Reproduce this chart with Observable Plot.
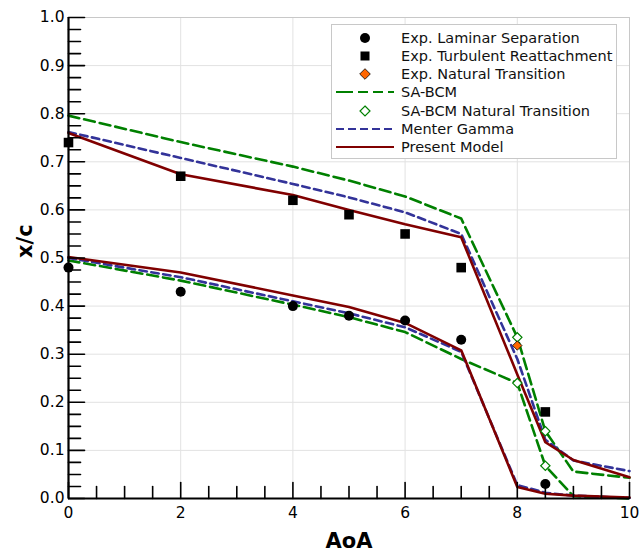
<!DOCTYPE html>
<html>
<head>
<meta charset="utf-8">
<script src="https://cdn.jsdelivr.net/npm/d3@7"></script>
<script src="https://cdn.jsdelivr.net/npm/@observablehq/plot@0.6"></script>
<style>
  html, body { margin: 0; padding: 0; background: white; }
  #wrap { position: relative; width: 640px; height: 554px; font-family: "DejaVu Sans", sans-serif; }
  #legend { position: absolute; left: 331px; top: 24px; width: 286px; height: 135px; background: white;
            border: 1px solid #c8c8c8; box-sizing: border-box; }
  #legend .row { position: absolute; left: 0; height: 18px; width: 100%; }
  #legend svg { position: absolute; left: 2px; top: 0; }
  #legend span { position: absolute; left: 69px; top: 0; font-size: 14.5px; line-height: 18px; color: #111; white-space: nowrap; }
</style>
</head>
<body>
<div id="wrap"></div>
<script>
// ---- data ----
const xTicks = [0, 2, 4, 6, 8, 10];
const yTicks = [0, 0.1, 0.2, 0.3, 0.4, 0.5, 0.6, 0.7, 0.8, 0.9, 1.0];
const xMinor = [0,0.5,1,1.5,2,2.5,3,3.5,4,4.5,5,5.5,6,6.5,7,7.5,8,8.5,9,9.5,10];
const yMinor = d3.range(0, 41).map(i => i / 40);

const expAoA = [0, 2, 4, 5, 6, 7, 8.5];
const lamSep = [0.48, 0.43, 0.40, 0.38, 0.37, 0.33, 0.03];
const turbReat = [0.74, 0.67, 0.62, 0.59, 0.55, 0.48, 0.18];
const natTransAoA = [8];
const natTrans = [0.318];

const modelAoA = [0, 2, 4, 5, 6, 7, 8, 8.5, 9, 10];
const saUpper = [0.796, 0.741, 0.690, 0.661, 0.628, 0.582, 0.335, 0.140, 0.056, 0.043];
const saLower = [0.495, 0.453, 0.403, 0.377, 0.346, 0.290, 0.240, 0.068, 0.005, 0.0];
const saNTAoA = [8, 8.5, 8, 8.5];
const saNT = [0.335, 0.140, 0.240, 0.068];
const menterUpper = [0.762, 0.708, 0.654, 0.626, 0.595, 0.550, 0.290, 0.122, 0.079, 0.057];
const menterLower = [0.500, 0.460, 0.410, 0.385, 0.356, 0.305, 0.028, 0.012, 0.006, 0.001];
const presentUpper = [0.760, 0.674, 0.631, 0.600, 0.570, 0.543, 0.258, 0.117, 0.080, 0.044];
const presentLower = [0.502, 0.470, 0.422, 0.398, 0.365, 0.308, 0.024, 0.010, 0.006, 0.002];

const GREEN = "#008000", BLUE = "#333399", RED = "#800000", ORANGE = "#ff6600";

const pts = (xs, ys) => xs.map((x, i) => ({x, y: ys[i]}));

const lineOpts = {x: "x", y: "y", strokeWidth: 2.6, strokeLinejoin: "round"};
const tickShape = {draw(context, l) { context.moveTo(0, 0); context.lineTo(0, -l); }};

const chart = Plot.plot({
  width: 640,
  height: 554,
  marginLeft: 68,
  marginRight: 11,
  marginTop: 17,
  marginBottom: 56,
  style: {fontFamily: "DejaVu Sans", fontSize: "15px", color: "black", background: "white"},
  x: {domain: [0, 10], label: null},
  y: {domain: [0, 1], label: null},
  marks: [
    Plot.gridX(xTicks.filter(d => d > 0 && d < 10), {stroke: "#e2e2e2", strokeOpacity: 1}),
    Plot.gridY(yTicks.filter(d => d > 0 && d < 1), {stroke: "#e2e2e2", strokeOpacity: 1}),
    Plot.ruleY([1], {stroke: "#c8c8c8"}),
    Plot.ruleX([10], {stroke: "#c8c8c8"}),
    // model lines
    Plot.line(pts(modelAoA, saUpper), {...lineOpts, stroke: GREEN, strokeDasharray: "11,5"}),
    Plot.line(pts(modelAoA, saLower), {...lineOpts, stroke: GREEN, strokeDasharray: "11,5"}),
    Plot.line(pts(modelAoA, menterUpper), {...lineOpts, stroke: BLUE, strokeDasharray: "7.5,4.5"}),
    Plot.line(pts(modelAoA, menterLower), {...lineOpts, stroke: BLUE, strokeDasharray: "7.5,4.5"}),
    Plot.line(pts(modelAoA, presentUpper), {...lineOpts, stroke: RED}),
    Plot.line(pts(modelAoA, presentLower), {...lineOpts, stroke: RED}),
    // markers
    Plot.dot(pts(saNTAoA, saNT), {x: "x", y: "y", symbol: "diamond2", r: 4.2, fill: "white", stroke: GREEN, strokeWidth: 1.2}),
    Plot.dot(pts(expAoA, lamSep), {x: "x", y: "y", symbol: "circle", r: 5, fill: "black"}),
    Plot.dot(pts(expAoA, turbReat), {x: "x", y: "y", symbol: "square", r: 5.4, fill: "black"}),
    Plot.dot(pts(natTransAoA, natTrans), {x: "x", y: "y", symbol: "diamond2", r: 4.2, fill: ORANGE, stroke: "black", strokeWidth: 0.8}),
    // axes
    Plot.axisX(xTicks, {tickSize: 0, tickPadding: 8, fontSize: 15.5, label: null, tickFormat: d => String(d)}),
    Plot.axisY(yTicks, {tickSize: 0, tickPadding: 4, fontSize: 15.5, label: null, tickFormat: d3.format(".1f")}),
    // inward minor/major ticks
    Plot.vector(xMinor, {x: d => d, y: () => 0, length: d => (d % 2 === 0 ? 6 : 4.5), rotate: 0, anchor: "start", shape: tickShape, stroke: "black", strokeWidth: 1.6}),
    Plot.vector(yMinor, {x: () => 0, y: d => d, length: (d, i) => (i % 4 === 0 ? 6 : 4.5), rotate: 90, anchor: "start", shape: tickShape, stroke: "black", strokeWidth: 1.6}),
    Plot.ruleY([0], {stroke: "black", strokeWidth: 2.2}),
    Plot.ruleX([0], {stroke: "black", strokeWidth: 2.2}),
    Plot.text(["AoA"], {frameAnchor: "bottom", dy: 43, fontSize: 21, fontWeight: "bold", lineAnchor: "middle"}),
    Plot.text(["x/c"], {frameAnchor: "left", dx: -43, rotate: -90, fontSize: 21, fontWeight: "bold", lineAnchor: "middle"})
  ]
});

const wrap = document.getElementById("wrap");
wrap.appendChild(chart);

// ---- legend ----
const legendItems = [
  {label: "Exp. Laminar Separation", kind: "circle"},
  {label: "Exp. Turbulent Reattachment", kind: "square"},
  {label: "Exp. Natural Transition", kind: "orangeDiamond"},
  {label: "SA-BCM", kind: "greenLine"},
  {label: "SA-BCM Natural Transition", kind: "openDiamond"},
  {label: "Menter Gamma", kind: "blueLine"},
  {label: "Present Model", kind: "redLine"}
];
const legend = document.createElement("div");
legend.id = "legend";
const rowTops = [4, 22, 40, 58, 76.5, 95, 113];
legendItems.forEach((item, i) => {
  const row = document.createElement("div");
  row.className = "row";
  row.style.top = rowTops[i] + "px";
  let g = "";
  const cx = 31, cy = 9;
  if (item.kind === "circle") g = `<circle cx="${cx}" cy="${cy}" r="5" fill="black"/>`;
  if (item.kind === "square") g = `<rect x="${cx-4.5}" y="${cy-4.5}" width="9" height="9" fill="black"/>`;
  if (item.kind === "orangeDiamond") g = `<path d="M${cx},${cy-5.3}L${cx+5.3},${cy}L${cx},${cy+5.3}L${cx-5.3},${cy}Z" fill="${ORANGE}" stroke="black" stroke-width="0.8"/>`;
  if (item.kind === "openDiamond") g = `<path d="M${cx},${cy-5}L${cx+5},${cy}L${cx},${cy+5}L${cx-5},${cy}Z" fill="white" stroke="${GREEN}" stroke-width="1.2"/>`;
  if (item.kind === "greenLine") g = `<line x1="2" x2="60" y1="${cy}" y2="${cy}" stroke="${GREEN}" stroke-width="2.2" stroke-dasharray="17,5,10,5,10,5,10"/>`;
  if (item.kind === "blueLine") g = `<line x1="2" x2="60" y1="${cy}" y2="${cy}" stroke="${BLUE}" stroke-width="2.2" stroke-dasharray="8,4"/>`;
  if (item.kind === "redLine") g = `<line x1="2" x2="60" y1="${cy}" y2="${cy}" stroke="${RED}" stroke-width="2.2"/>`;
  row.innerHTML = `<svg width="64" height="18">${g}</svg><span>${item.label}</span>`;
  legend.appendChild(row);
});
wrap.appendChild(legend);
</script>
</body>
</html>
